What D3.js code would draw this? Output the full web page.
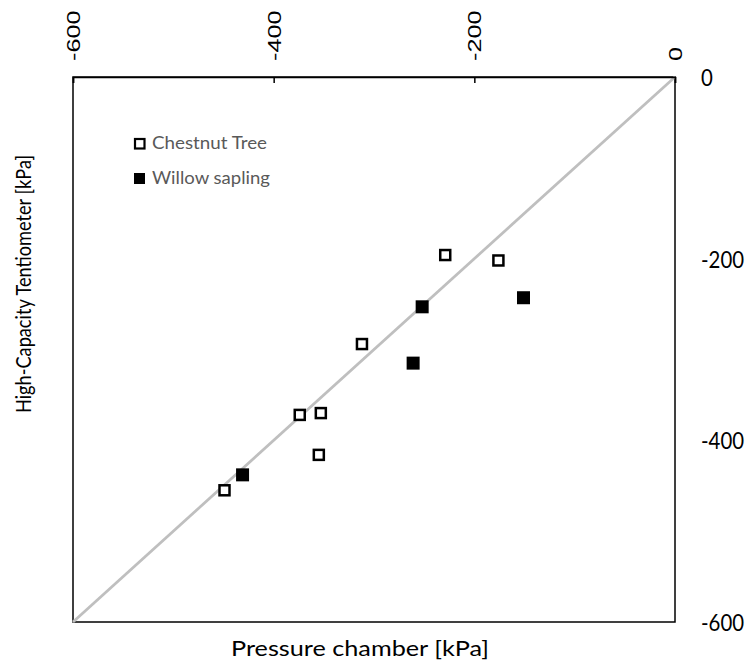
<!DOCTYPE html>
<html>
<head>
<meta charset="utf-8">
<script src="https://cdn.jsdelivr.net/npm/d3@7"></script>
<style>
  html, body { margin: 0; padding: 0; background: #fff; }
  svg { display: block; }
</style>
</head>
<body>
<div id="chart"></div>
<script>
// ---- data ----
const chestnutX = [-229, -176, -312, -374, -353, -355, -449];
const chestnutY = [-196, -202, -294, -372, -370, -416, -455];
const willowX = [-252, -151, -261, -431];
const willowY = [-253, -243, -315, -438];
const lineX = [-600, 0];
const lineY = [-600, 0];
const xTicks = [-600, -400, -200, 0];
const yTicks = [-600, -400, -200, 0];
const seriesNames = ["Chestnut Tree", "Willow sapling"];
const xTitle = "Pressure chamber [kPa]";
const yTitle = "High-Capacity Tentiometer [kPa]";

// ---- layout ----
const W = 751, H = 668;
const mLeft = 73, mRight = 675, mTop = 77, mBottom = 622;
const fmt = d => String(d);

const svg = d3.select("#chart").append("svg")
  .attr("width", W).attr("height", H);

const x = d3.scaleLinear().domain([-600, 0]).range([mLeft, mRight]);
const y = d3.scaleLinear().domain([-600, 0]).range([mBottom, mTop]);

// frame
svg.append("rect")
  .attr("x", mLeft).attr("y", mTop)
  .attr("width", mRight - mLeft).attr("height", mBottom - mTop)
  .attr("fill", "none").attr("stroke", "#000").attr("stroke-width", 1.5);

// 1:1 line
svg.append("path")
  .datum(lineX.map((v, i) => [v, lineY[i]]))
  .attr("fill", "none").attr("stroke", "#bfbfbf").attr("stroke-width", 2.75)
  .attr("d", d3.line().x(d => x(d[0])).y(d => y(d[1])));

// top axis
const gTop = svg.append("g")
  .attr("transform", `translate(0,${mTop})`)
  .call(d3.axisTop(x).tickValues(xTicks).tickSize(-6).tickFormat(fmt));
gTop.select(".domain").attr("stroke", "#000").attr("stroke-width", 1.5);
gTop.selectAll(".tick line").attr("stroke", "#000").attr("stroke-width", 1.5);
gTop.selectAll(".tick text")
  .attr("x", 0).attr("y", 0).attr("dy", "0.35em")
  .attr("text-anchor", "start")
  .attr("transform", "translate(0,-16) rotate(-90) scale(1.33,1)")
  .attr("font-family", "'Liberation Sans', Arial, sans-serif")
  .attr("font-size", 19).attr("fill", "#000");

// right axis
const gRight = svg.append("g")
  .attr("transform", `translate(${mRight},0)`)
  .call(d3.axisRight(y).tickValues(yTicks).tickSize(0).tickFormat(fmt));
gRight.select(".domain").remove();
gRight.selectAll(".tick text")
  .attr("x", 0).attr("dy", "0.35em")
  .attr("text-anchor", "start")
  .attr("transform", "translate(26,0) scale(0.85,1)")
  .attr("font-family", "Lato, 'Open Sans', sans-serif")
  .attr("font-size", 24).attr("fill", "#000");

// points
const chestnut = chestnutX.map((v, i) => [v, chestnutY[i]]);
const willow = willowX.map((v, i) => [v, willowY[i]]);

svg.append("g").selectAll("rect").data(chestnut).join("rect")
  .attr("x", d => x(d[0]) - 5).attr("y", d => y(d[1]) - 5)
  .attr("width", 10).attr("height", 10)
  .attr("fill", "#fff").attr("stroke", "#000").attr("stroke-width", 2.5);

svg.append("g").selectAll("rect").data(willow).join("rect")
  .attr("x", d => x(d[0]) - 6.5).attr("y", d => y(d[1]) - 6.5)
  .attr("width", 13).attr("height", 13)
  .attr("fill", "#000");

// legend
const leg = svg.append("g");
leg.append("rect").attr("x", 135).attr("y", 139).attr("width", 9.5).attr("height", 9.5)
  .attr("fill", "#fff").attr("stroke", "#000").attr("stroke-width", 2.2);
leg.append("rect").attr("x", 134).attr("y", 173).attr("width", 11).attr("height", 11)
  .attr("fill", "#000");
leg.append("text").attr("x", 152).attr("y", 149)
  .attr("font-family", "Lato, sans-serif").attr("font-size", 18).attr("fill", "#595959")
  .attr("textLength", 115).attr("lengthAdjust", "spacingAndGlyphs")
  .text(seriesNames[0]);
leg.append("text").attr("x", 152).attr("y", 184)
  .attr("font-family", "Lato, sans-serif").attr("font-size", 18).attr("fill", "#595959")
  .attr("textLength", 118).attr("lengthAdjust", "spacingAndGlyphs")
  .text(seriesNames[1]);

// axis titles
svg.append("text")
  .attr("x", 360).attr("y", 656)
  .attr("text-anchor", "middle")
  .attr("font-family", "Lato, sans-serif").attr("font-size", 21).attr("fill", "#000")
  .attr("textLength", 258).attr("lengthAdjust", "spacingAndGlyphs")
  .text(xTitle);

svg.append("text")
  .attr("transform", "translate(31,284) rotate(-90)")
  .attr("text-anchor", "middle")
  .attr("font-family", "Lato, sans-serif").attr("font-size", 22).attr("fill", "#000")
  .attr("textLength", 258).attr("lengthAdjust", "spacingAndGlyphs")
  .text(yTitle);
</script>
</body>
</html>
